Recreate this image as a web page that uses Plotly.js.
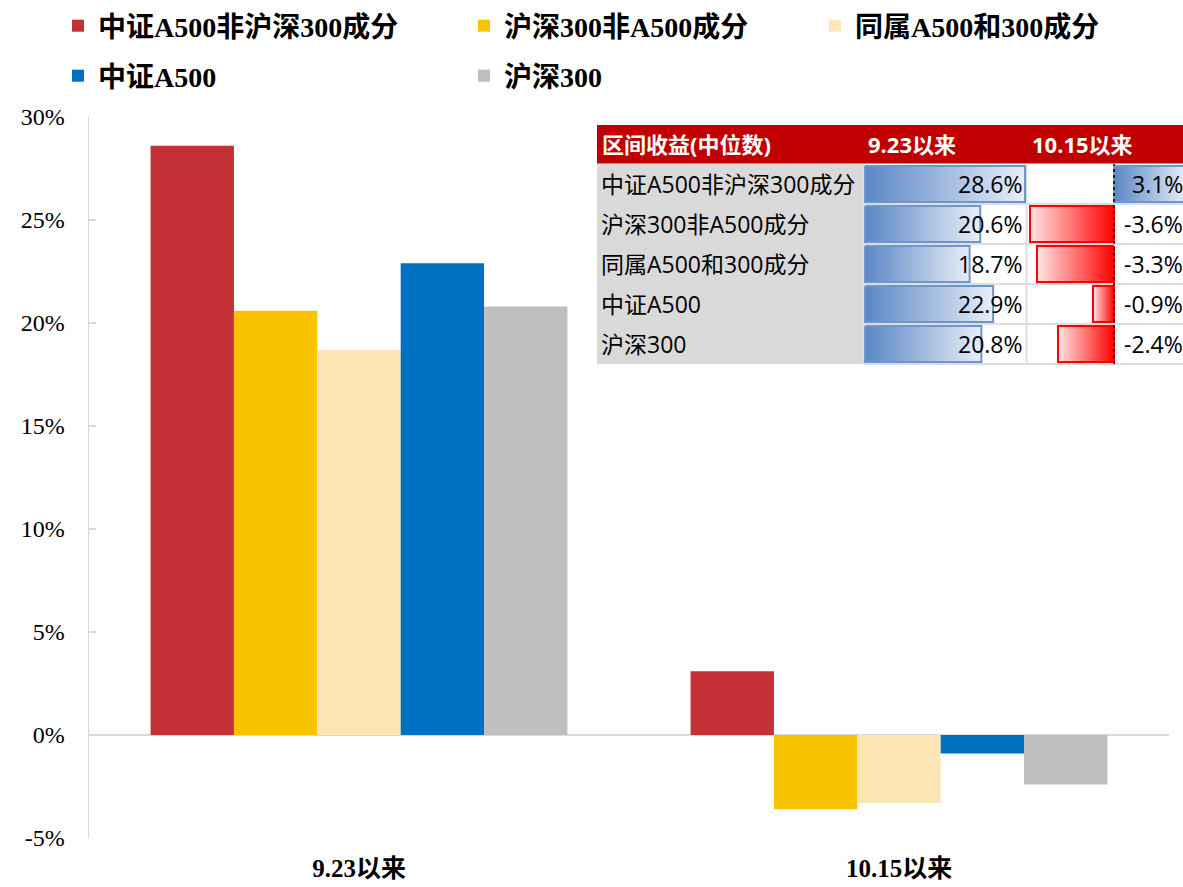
<!DOCTYPE html>
<html>
<head>
<meta charset="utf-8">
<script src="https://cdn.plot.ly/plotly-3.0.1.min.js"></script>
<style>html,body{margin:0;padding:0;background:#fff;}#chart{width:1183px;height:887px;}</style>
</head>
<body>
<div id="chart"></div>
<script>
// ---------- data ----------
const categories = ['9.23以来', '10.15以来'];
const seriesNames = ['中证A500非沪深300成分', '沪深300非A500成分', '同属A500和300成分', '中证A500', '沪深300'];
const seriesA500Non300 = [28.6, 3.1];
const series300NonA500 = [20.6, -3.6];
const seriesBoth = [18.7, -3.3];
const seriesA500 = [22.9, -0.9];
const series300 = [20.8, -2.4];
const seriesColors = ['#C33035', '#F9C300', '#FDE6B6', '#0070C0', '#BFBFBF'];
const yTickVals = [-5, 0, 5, 10, 15, 20, 25, 30];
const yTickText = ['-5%', '0%', '5%', '10%', '15%', '20%', '25%', '30%'];
const tableHeader = ['区间收益(中位数)', '9.23以来', '10.15以来'];

const allSeries = [seriesA500Non300, series300NonA500, seriesBoth, seriesA500, series300];
const tableCol923 = allSeries.map(s => s[0]);
const tableCol1015 = allSeries.map(s => s[1]);

// ---------- layout geometry (pixels) ----------
const W = 1183, H = 887;
const M = {l: 89, r: 0, t: 117, b: 49};
const PW = W - M.l - M.r, PH = H - M.t - M.b;
const px = x => (x - M.l) / PW;
const py = y => (H - M.b - y) / PH;

const serif = 'Liberation Serif, Times New Roman, Noto Sans CJK SC, serif';
const sans = 'Open Sans, Noto Sans CJK SC, sans-serif';

const traces = [];
const legendIds = ['legend', 'legend2', 'legend3', 'legend4', 'legend5'];
seriesNames.forEach((name, i) => {
  traces.push({
    type: 'bar', name: name, x: categories, y: allSeries[i],
    marker: {color: seriesColors[i], line: {width: 0}},
    legend: legendIds[i], hoverinfo: 'skip'
  });
});

// table data bars (computed from the data arrays, drawn on hidden axes)
const half = 0.45;
function dataBar(v, row, xa, ya) {
  const blue = {type: 'horizontal', colorscale: [[0, '#5A86C5'], [1, '#E8EEF8']]};
  const red = {type: 'horizontal', colorscale: [[0, '#FFE6E6'], [1, '#FF0000']]};
  return {
    type: 'scatter', mode: 'lines', xaxis: xa, yaxis: ya,
    x: [0, v, v, 0, 0],
    y: [row - half, row - half, row + half, row + half, row - half],
    fill: 'toself',
    fillgradient: v >= 0 ? blue : red,
    line: {color: v >= 0 ? '#6D96CD' : '#FF0000', width: 2},
    showlegend: false, hoverinfo: 'skip'
  };
}
tableCol923.forEach((v, i) => traces.push(dataBar(v, i, 'x2', 'y2')));
tableCol1015.forEach((v, i) => traces.push(dataBar(v, i, 'x3', 'y3')));

// geometry of table
const tLeft = 597, tRight = 1183, hTop = 125, hBot = 163.5, rTop = 164, rowH = 40;
const c1R = 863.5, c2R = 1026.5;
const rBot = rTop + rowH * 5;
const c2Zero = 865, c2PxPer = 160 / 28.6;
const c3Zero = 1114, c3PxPer = 84 / 3.6;

const shapes = [];
shapes.push({type: 'rect', xref: 'paper', yref: 'paper', x0: px(tLeft), x1: px(tRight), y0: py(hBot), y1: py(hTop), fillcolor: '#C00000', line: {width: 0}, layer: 'below'});
shapes.push({type: 'rect', xref: 'paper', yref: 'paper', x0: px(tLeft), x1: px(c1R), y0: py(rBot), y1: py(rTop), fillcolor: '#D9D9D9', line: {width: 0}, layer: 'below'});
for (let i = 1; i <= 5; i++) {
  shapes.push({type: 'line', xref: 'paper', yref: 'paper', x0: px(c1R), x1: px(tRight), y0: py(rTop + rowH * i), y1: py(rTop + rowH * i), line: {color: '#DEDEDE', width: 2}, layer: 'below'});
}
[c1R, c2R].forEach(xx => shapes.push({type: 'line', xref: 'paper', yref: 'paper', x0: px(xx), x1: px(xx), y0: py(rBot), y1: py(rTop), line: {color: '#DEDEDE', width: 2}, layer: 'below'}));
// zero line of main chart
shapes.push({type: 'line', xref: 'x', yref: 'y', x0: -0.5, x1: 1.5, y0: 0, y1: 0, line: {color: '#D9D9D9', width: 2}, layer: 'below'});
// dashed axis of column 3 data bars
shapes.push({type: 'line', xref: 'x3', yref: 'paper', x0: 0, x1: 0, y0: py(rBot), y1: py(rTop), line: {color: '#000', width: 1.5, dash: 'dot'}, layer: 'above'});

const annotations = [];
const hdrY = py((hTop + hBot) / 2);
[[600, tableHeader[0]], [866, tableHeader[1]], [1030, tableHeader[2]]].forEach(([x, t]) => {
  annotations.push({xref: 'paper', yref: 'paper', x: px(x), y: hdrY, xanchor: 'left', yanchor: 'middle', showarrow: false, text: '<b>' + t + '</b>', font: {family: sans, size: 22, color: '#FFFFFF'}});
});
seriesNames.forEach((name, i) => {
  annotations.push({xref: 'paper', yref: 'y2', x: px(599), y: i, xanchor: 'left', yanchor: 'middle', showarrow: false, text: name, font: {family: sans, size: 23, color: '#000'}});
  annotations.push({xref: 'paper', yref: 'y2', x: px(1025), y: i, xanchor: 'right', yanchor: 'middle', showarrow: false, text: tableCol923[i].toFixed(1) + '%', font: {family: sans, size: 23, color: '#000'}});
  annotations.push({xref: 'paper', yref: 'y2', x: px(1185), y: i, xanchor: 'right', yanchor: 'middle', showarrow: false, text: tableCol1015[i].toFixed(1) + '%', font: {family: sans, size: 23, color: '#000'}});
});

// legends placement
const legendPos = [[58, 26], [464, 26], [815, 26], [58, 76], [464, 76]];
const layout = {
  width: W, height: H,
  margin: M,
  paper_bgcolor: '#FFFFFF', plot_bgcolor: 'rgba(0,0,0,0)',
  barmode: 'group', bargap: 0.228, bargroupgap: 0,
  showlegend: true,
  xaxis: {
    type: 'category', range: [-0.5, -0.5 + PW / 540], showline: false, showgrid: false, zeroline: false,
    ticks: '', ticklabelstandoff: 13,
    tickfont: {family: serif, size: 25, color: '#000', weight: 'bold'}, fixedrange: true
  },
  yaxis: {
    range: [-5, 30], tickvals: yTickVals, ticktext: yTickText,
    showline: true, linecolor: '#D9D9D9', linewidth: 1.5,
    ticks: 'inside', ticklen: 7, tickcolor: '#D9D9D9', tickwidth: 1.5,
    showgrid: false, zeroline: false, ticklabelstandoff: 18,
    tickfont: {family: serif, size: 24, color: '#000'}, fixedrange: true
  },
  xaxis2: {domain: [px(864), px(1026)], range: [(864 - c2Zero) / c2PxPer, (1026 - c2Zero) / c2PxPer], anchor: 'y2', visible: false, fixedrange: true},
  yaxis2: {domain: [py(rBot), py(rTop)], range: [4.5, -0.5], anchor: 'x2', visible: false, fixedrange: true},
  xaxis3: {domain: [px(1027), 1], range: [(1027 - c3Zero) / c3PxPer, (1183 - c3Zero) / c3PxPer], anchor: 'y3', visible: false, fixedrange: true},
  yaxis3: {domain: [py(rBot), py(rTop)], range: [4.5, -0.5], anchor: 'x3', visible: false, fixedrange: true},
  shapes: shapes,
  annotations: annotations
};
legendIds.forEach((id, i) => {
  layout[id] = {
    x: px(legendPos[i][0]), y: py(legendPos[i][1]), xanchor: 'left', yanchor: 'middle',
    orientation: 'v', bgcolor: 'rgba(0,0,0,0)',
    font: {family: serif, size: 28, color: '#000', weight: 'bold'}
  };
});

Plotly.newPlot('chart', traces, layout, {displayModeBar: false, staticPlot: true});
</script>
</body>
</html>
